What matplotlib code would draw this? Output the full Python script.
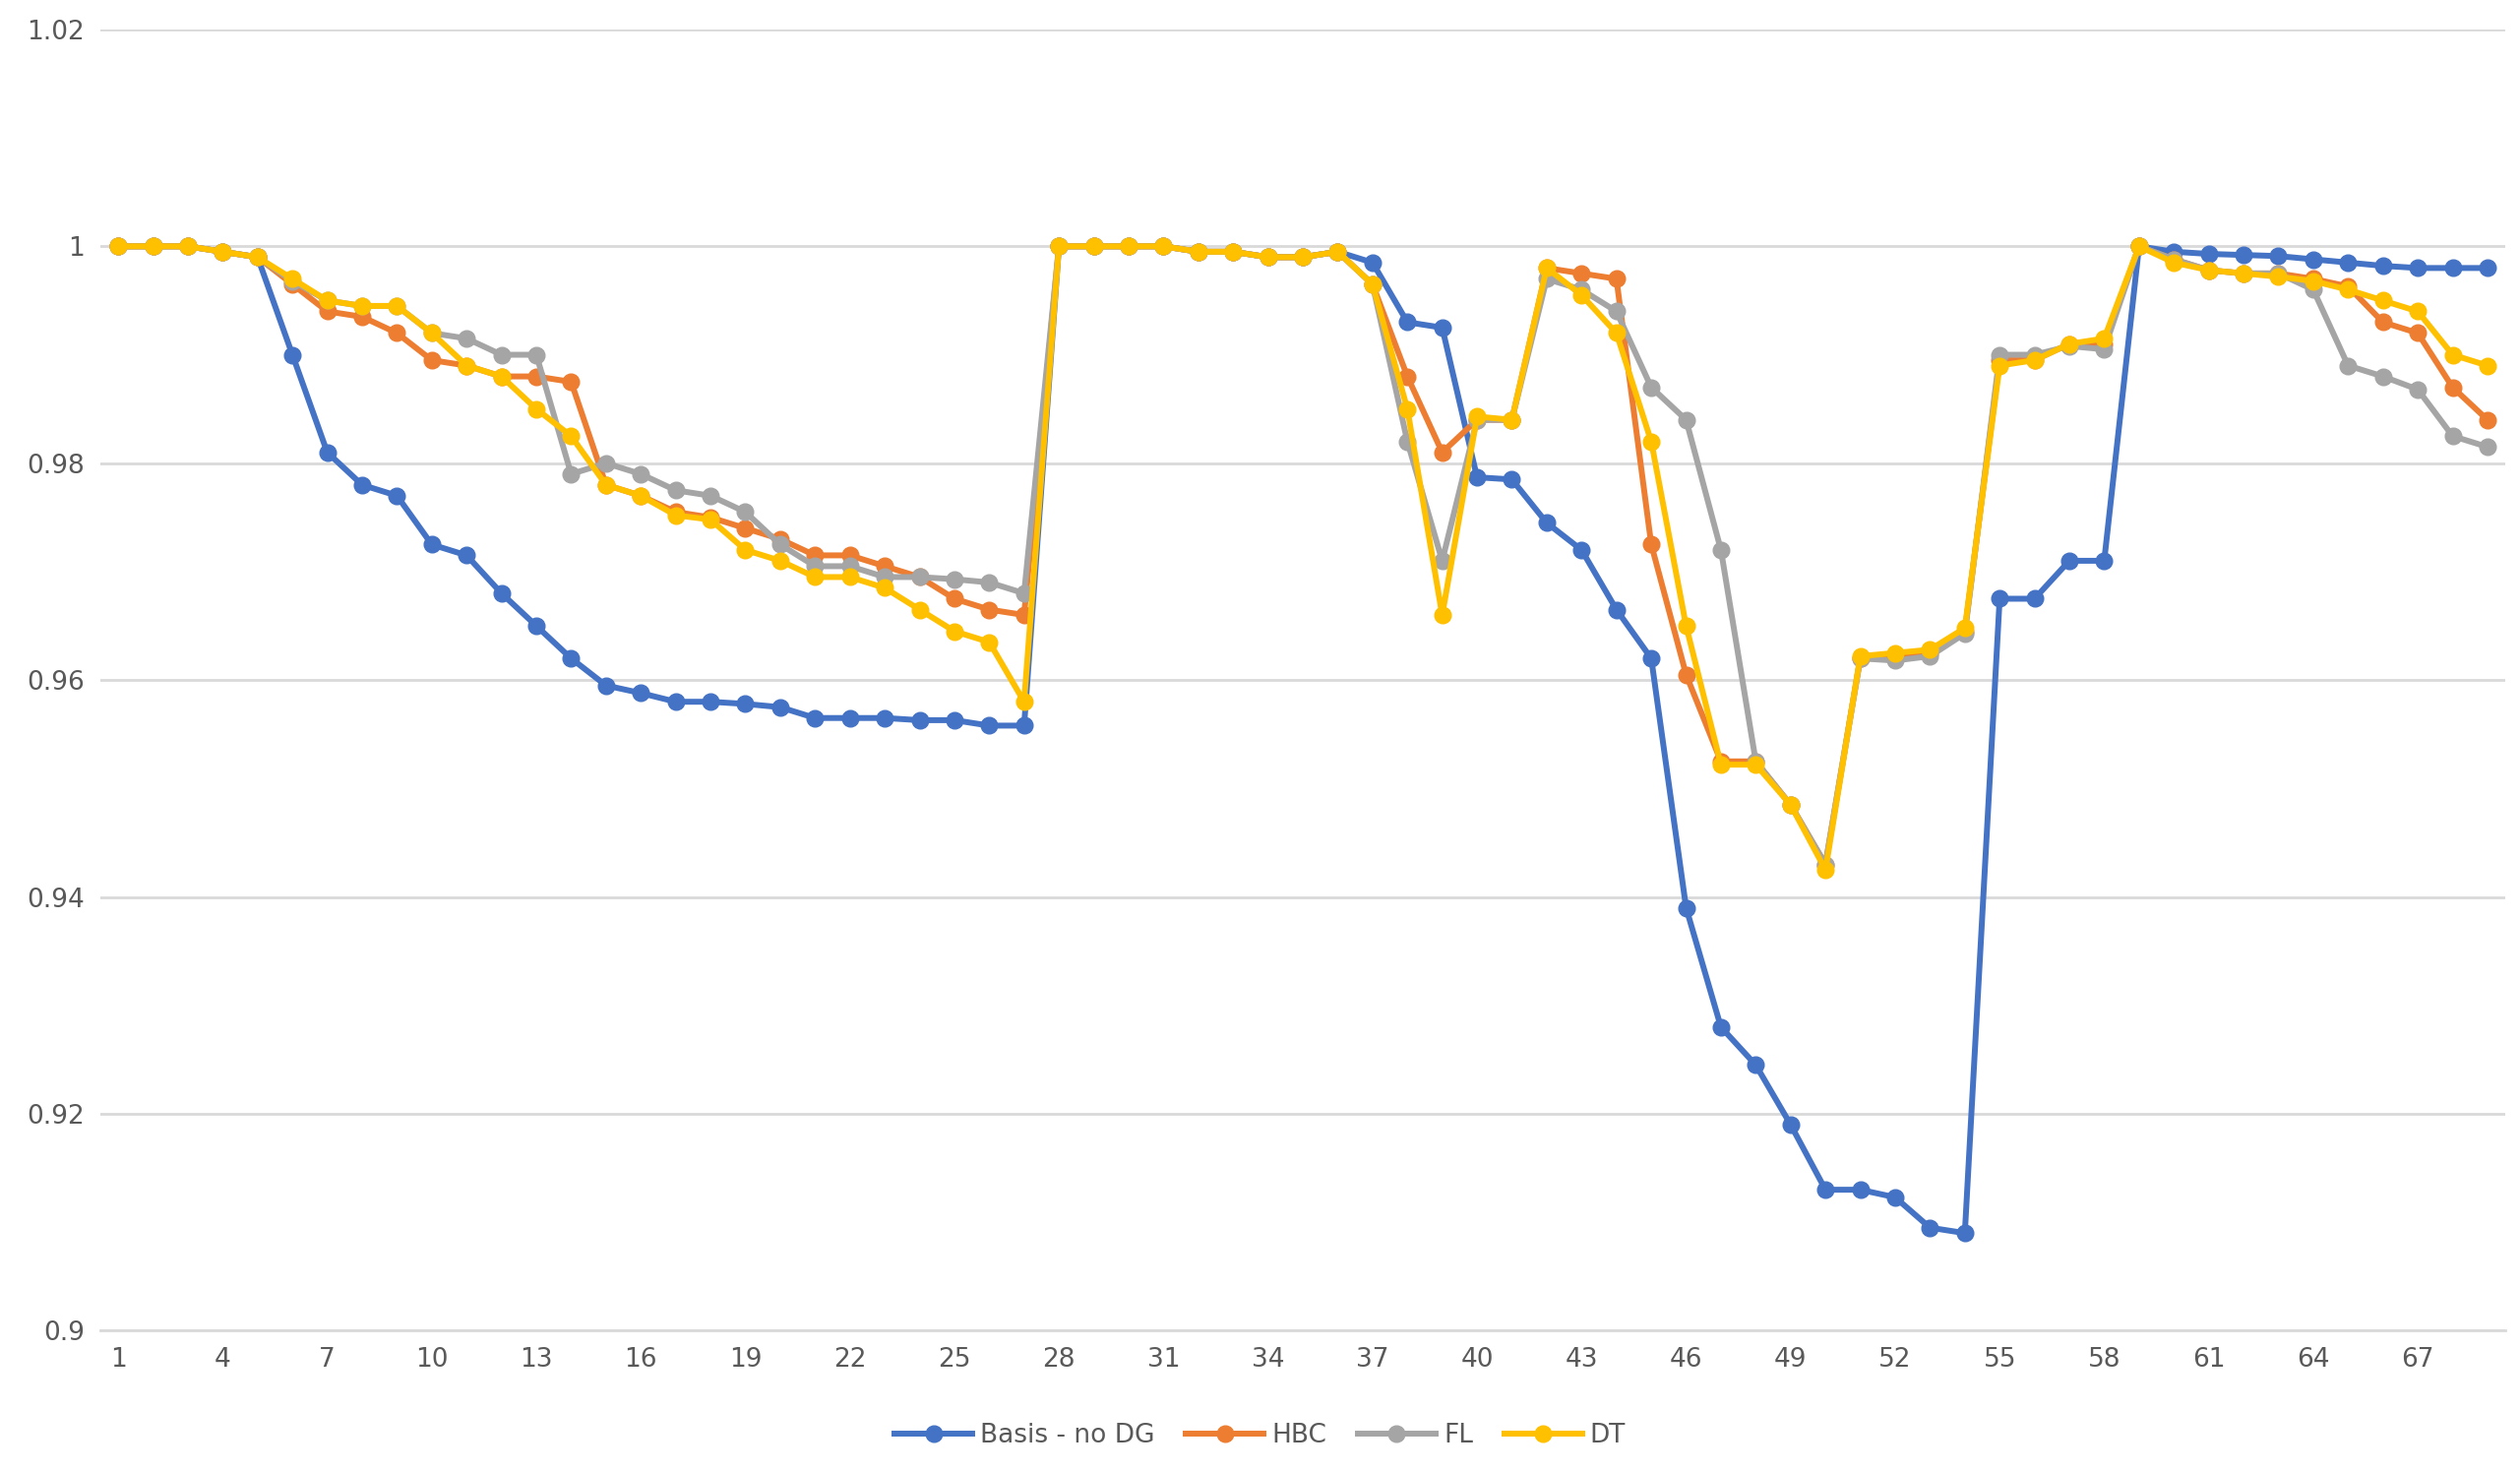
import matplotlib
matplotlib.use("Agg")
import matplotlib.pyplot as plt

x = list(range(1, 70))
mid = [1, 1, 1, 0.9995, 0.9995, 0.999, 0.999]  # points 29-35
basis = [1, 1, 1, 0.9995, 0.999, 0.990, 0.981, 0.978, 0.977, 0.9725, 0.9715, 0.968, 0.965, 0.962,
         0.9595, 0.9588, 0.958, 0.958, 0.9578, 0.9575, 0.9565, 0.9565, 0.9565, 0.9563, 0.9563, 0.9558, 0.9558,
         1.0] + mid + [0.9995, 0.9985, 0.993, 0.9925, 0.9787, 0.9785, 0.9745, 0.972, 0.9665, 0.962,
         0.939, 0.928, 0.9245, 0.919, 0.913, 0.913, 0.9123, 0.9095, 0.909, 0.9675, 0.9675, 0.971, 0.971,
         1.0, 0.9995, 0.9993, 0.9992, 0.9991, 0.9988, 0.9985, 0.9982, 0.998, 0.998, 0.998]
hbc = [1, 1, 1, 0.9995, 0.999, 0.9965, 0.994, 0.9935, 0.992, 0.9895, 0.989, 0.988, 0.988, 0.9875,
       0.978, 0.977, 0.9755, 0.975, 0.974, 0.973, 0.9715, 0.9715, 0.9705, 0.9695, 0.9675, 0.9665, 0.966,
       1.0] + mid + [0.9995, 0.9965, 0.988, 0.981, 0.984, 0.984, 0.998, 0.9975, 0.997, 0.9725,
       0.9605, 0.9525, 0.9525, 0.9485, 0.943, 0.962, 0.962, 0.9625, 0.9645, 0.9895, 0.9895, 0.991, 0.991,
       1.0, 0.9988, 0.9978, 0.9975, 0.9975, 0.997, 0.9963, 0.993, 0.992, 0.987, 0.984]
fl = [1, 1, 1, 0.9995, 0.999, 0.9968, 0.995, 0.9945, 0.9945, 0.992, 0.9915, 0.990, 0.990, 0.979,
      0.980, 0.979, 0.9775, 0.977, 0.9755, 0.9725, 0.9705, 0.9705, 0.9695, 0.9695, 0.9693, 0.969, 0.968,
      1.0] + mid + [0.9995, 0.9965, 0.982, 0.971, 0.984, 0.984, 0.997, 0.996, 0.994, 0.987,
      0.984, 0.972, 0.9525, 0.9485, 0.943, 0.962, 0.9618, 0.9622, 0.9643, 0.990, 0.990, 0.9908, 0.9905,
      1.0, 0.9988, 0.9978, 0.9975, 0.9975, 0.996, 0.989, 0.988, 0.9868, 0.9825, 0.9815]
dt = [1, 1, 1, 0.9995, 0.999, 0.997, 0.995, 0.9945, 0.9945, 0.992, 0.989, 0.988, 0.985, 0.9825,
      0.978, 0.977, 0.9752, 0.9748, 0.972, 0.971, 0.9695, 0.9695, 0.9685, 0.9665, 0.9645, 0.9635, 0.958,
      1.0] + mid + [0.9995, 0.9965, 0.985, 0.966, 0.9843, 0.984, 0.998, 0.9955, 0.992, 0.982,
      0.965, 0.9522, 0.9522, 0.9485, 0.9425, 0.9622, 0.9625, 0.9628, 0.9648, 0.989, 0.9895, 0.991, 0.9915,
      1.0, 0.9985, 0.9978, 0.9975, 0.9972, 0.9968, 0.996, 0.995, 0.994, 0.990, 0.989]

series = [("Basis - no DG", basis, "#4472C4"), ("HBC", hbc, "#ED7D31"),
          ("FL", fl, "#A5A5A5"), ("DT", dt, "#FFC000")]

fig = plt.figure(figsize=(25.61, 14.96), dpi=100)
ax = fig.add_axes([0.04, 0.096, 0.954, 0.884])
for name, vals, c in series:
    ax.plot(x, vals, color=c, lw=4.3, marker="o", ms=12, label=name)

ax.set_xlim(0.5, 69.5)
ax.set_ylim(0.9, 1.02)
ax.set_yticks([0.9, 0.92, 0.94, 0.96, 0.98, 1.0, 1.02])
ax.set_yticklabels(["0.9", "0.92", "0.94", "0.96", "0.98", "1", "1.02"])
ax.set_xticks(list(range(1, 70, 3)))
ax.grid(axis="y", color="#D9D9D9", lw=2)
ax.set_axisbelow(True)
for s in ["top", "right", "left"]:
    ax.spines[s].set_visible(False)
ax.spines["bottom"].set_color("#D9D9D9")
ax.spines["bottom"].set_linewidth(2)
ax.tick_params(length=0, labelsize=19, colors="#595959", pad=12)
fig.legend(loc="lower center", ncol=4, frameon=False, fontsize=19, bbox_to_anchor=(0.5, 0.0),
           handlelength=3, labelcolor="#595959", columnspacing=1.2, handletextpad=0.3)
fig.savefig("out.png", dpi=100)
